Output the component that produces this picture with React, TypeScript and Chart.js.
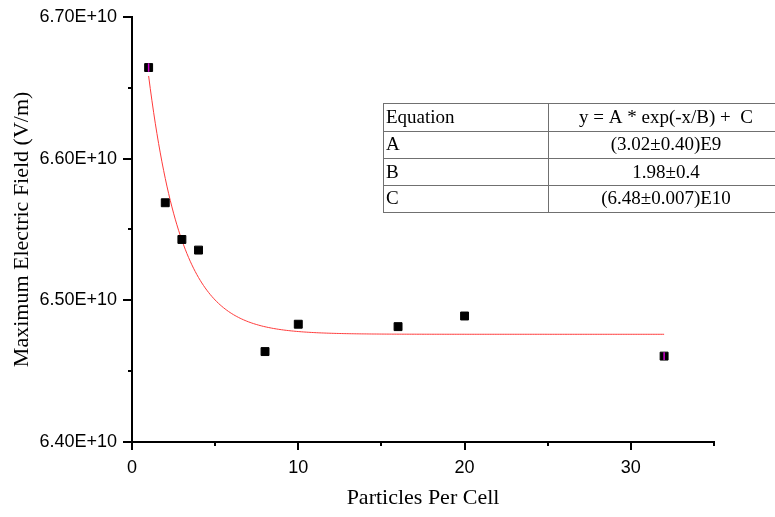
import { useEffect, useRef } from 'react';
import { Chart, registerables } from 'chart.js';

Chart.register(...registerables);

// Measured maximum electric field versus particles per cell
const particlesPerCell = [1, 2, 3, 4, 8, 10, 16, 20, 32];
const maxField = [6.6642e10, 6.5688e10, 6.5429e10, 6.5354e10, 6.4638e10, 6.4831e10, 6.4814e10, 6.4889e10, 6.4606e10];
const fieldError = [3.0e7, 0, 0, 0, 0, 0, 0, 0, 2.8e7];

// Exponential decay fit: y = A * exp(-x/B) + C
const fitA = 3.02e9;
const fitB = 1.98;
const fitC = 6.476e10;
const fitStart = 1;
const fitEnd = 32;

const tableHeader = ['Equation', 'y = A * exp(-x/B) +  C'];
const tableRows = [
  ['A', '(3.02±0.40)E9'],
  ['B', '1.98±0.4'],
  ['C', '(6.48±0.007)E10'],
];

const xTitle = 'Particles Per Cell';
const yTitle = 'Maximum Electric Field (V/m)';

const SANS = "'Liberation Sans', Arial, sans-serif";
const SERIF = "'Liberation Serif', 'Times New Roman', serif";

function fitCurve() {
  const pts: { x: number; y: number }[] = [];
  const n = 310;
  for (let i = 0; i <= n; i++) {
    const x = fitStart + ((fitEnd - fitStart) * i) / n;
    pts.push({ x, y: fitA * Math.exp(-x / fitB) + fitC });
  }
  return pts;
}

const isMajorX = (v: number) => Math.round(v) % 10 === 0;
const isMajorY = (v: number) => Math.round(v / 5e8) % 2 === 0;

// Outward tick marks: long for labelled ticks, short for minor ones
const axisTicks = {
  id: 'axisTicks',
  afterDraw(chart: any) {
    const { ctx, chartArea, scales } = chart;
    const xs = scales.x;
    const ys = scales.y;
    ctx.save();
    ctx.strokeStyle = '#000';
    ctx.lineWidth = 2;
    xs.ticks.forEach((t: any) => {
      const px = Math.round(xs.getPixelForValue(t.value));
      const len = isMajorX(t.value) ? 8 : 4;
      ctx.beginPath();
      ctx.moveTo(px, chartArea.bottom);
      ctx.lineTo(px, chartArea.bottom + len);
      ctx.stroke();
    });
    ys.ticks.forEach((t: any) => {
      const py = Math.round(ys.getPixelForValue(t.value));
      const len = isMajorY(t.value) ? 9 : 4;
      ctx.beginPath();
      ctx.moveTo(chartArea.left, py);
      ctx.lineTo(chartArea.left - len, py);
      ctx.stroke();
    });
    ctx.restore();
  },
};

// Vertical error bars drawn over the markers
const errorBars = {
  id: 'errorBars',
  afterDatasetsDraw(chart: any) {
    const { ctx, scales } = chart;
    ctx.save();
    ctx.strokeStyle = '#d000d0';
    ctx.lineWidth = 1.5;
    particlesPerCell.forEach((x, i) => {
      const e = fieldError[i];
      if (!e) return;
      const px = scales.x.getPixelForValue(x);
      ctx.beginPath();
      ctx.moveTo(px, scales.y.getPixelForValue(maxField[i] + e));
      ctx.lineTo(px, scales.y.getPixelForValue(maxField[i] - e));
      ctx.stroke();
    });
    ctx.restore();
  },
};

// Fit parameter table in the upper right
const fitTable = {
  id: 'fitTable',
  afterDraw(chart: any) {
    const { ctx, width } = chart;
    const left = 383;
    const divider = 548;
    const valueCenter = 666;
    const lines = [102.7, 130.7, 158.3, 185, 211.7];
    const rows = [tableHeader, ...tableRows];
    ctx.save();
    ctx.strokeStyle = '#707070';
    ctx.lineWidth = 1;
    lines.forEach((ly) => {
      ctx.beginPath();
      ctx.moveTo(left, Math.round(ly) + 0.5);
      ctx.lineTo(width, Math.round(ly) + 0.5);
      ctx.stroke();
    });
    [left, divider].forEach((lx) => {
      ctx.beginPath();
      ctx.moveTo(lx + 0.5, Math.round(lines[0]) + 0.5);
      ctx.lineTo(lx + 0.5, Math.round(lines[lines.length - 1]) + 0.5);
      ctx.stroke();
    });
    ctx.fillStyle = '#000';
    ctx.font = `19px ${SERIF}`;
    ctx.textBaseline = 'middle';
    rows.forEach((row, i) => {
      const cy = (lines[i] + lines[i + 1]) / 2 + 1;
      ctx.textAlign = 'left';
      ctx.fillText(row[0], left + 3, cy);
      ctx.textAlign = 'center';
      ctx.fillText(row[1], valueCenter, cy);
    });
    ctx.restore();
  },
};

export default function App() {
  const canvasRef = useRef<HTMLCanvasElement | null>(null);

  useEffect(() => {
    const canvas = canvasRef.current;
    if (!canvas) return;
    const chart = new Chart(canvas, {
      type: 'scatter',
      data: {
        datasets: [
          {
            label: 'Fit',
            data: fitCurve(),
            showLine: true,
            borderColor: '#ff3b3b',
            borderWidth: 1,
            pointRadius: 0,
            tension: 0,
            order: 2,
          },
          {
            label: 'Max field',
            data: particlesPerCell.map((x, i) => ({ x, y: maxField[i] })),
            showLine: false,
            pointStyle: 'rect',
            pointRadius: 5.6,
            pointBorderWidth: 1,
            backgroundColor: '#000',
            borderColor: '#000',
            order: 1,
          },
        ],
      },
      options: {
        responsive: false,
        animation: false,
        devicePixelRatio: 1,
        layout: { padding: { top: 15, right: 61, bottom: 0, left: 0 } },
        plugins: {
          legend: { display: false },
          tooltip: { enabled: false },
        },
        scales: {
          x: {
            type: 'linear',
            min: 0,
            max: 35,
            border: { display: true, color: '#000', width: 2 },
            grid: { display: true, drawOnChartArea: false, drawTicks: true, tickLength: 8, color: 'rgba(0,0,0,0)' },
            ticks: {
              stepSize: 5,
              autoSkip: false,
              maxRotation: 0,
              padding: 7,
              color: '#000',
              font: { family: SANS, size: 18 },
              callback: (v: any) => (isMajorX(Number(v)) ? String(v) : ''),
            },
            title: {
              display: true,
              text: xTitle,
              color: '#000',
              font: { family: SERIF, size: 22 },
              padding: { top: 0, bottom: 6 },
            },
            afterFit: (scale: any) => {
              scale.height = 75;
            },
          },
          y: {
            type: 'linear',
            min: 6.4e10,
            max: 6.7e10,
            border: { display: true, color: '#000', width: 2 },
            grid: { display: true, drawOnChartArea: false, drawTicks: true, tickLength: 9, color: 'rgba(0,0,0,0)' },
            ticks: {
              stepSize: 5e8,
              autoSkip: false,
              padding: 6,
              color: '#000',
              font: { family: SANS, size: 18 },
              callback: (v: any) => {
                const n = Number(v);
                return isMajorY(n) ? (n / 1e10).toFixed(2) + 'E+10' : '';
              },
            },
            title: {
              display: true,
              text: yTitle,
              color: '#000',
              font: { family: SERIF, size: 22 },
              padding: { top: 9, bottom: 0 },
            },
            afterFit: (scale: any) => {
              scale.width = 132;
            },
          },
        },
      },
      plugins: [axisTicks, errorBars, fitTable],
    });
    return () => chart.destroy();
  }, []);

  return (
    <div style={{ position: 'fixed', left: 0, top: 0, width: 775, height: 517, background: '#fff' }}>
      <canvas ref={canvasRef} width={775} height={517} style={{ display: 'block', width: 775, height: 517 }} />
    </div>
  );
}
